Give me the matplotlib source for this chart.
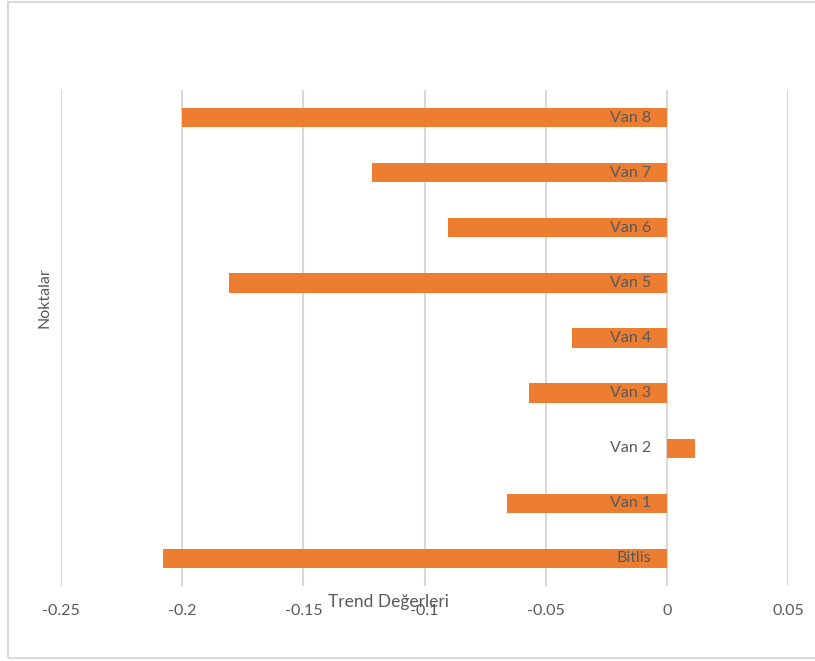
import matplotlib.pyplot as plt
from matplotlib.patches import Rectangle

# Veri
noktalar = ['Bitlis', 'Van 1', 'Van 2', 'Van 3', 'Van 4', 'Van 5', 'Van 6', 'Van 7', 'Van 8']
trend = [-0.208, -0.066, 0.0115, -0.057, -0.039, -0.1805, -0.0905, -0.1215, -0.2]
xticks = [-0.25, -0.2, -0.15, -0.1, -0.05, 0, 0.05]
xtick_labels = ['-0.25', '-0.2', '-0.15', '-0.1', '-0.05', '0', '0.05']

plt.rcParams['font.family'] = ['Lato', 'DejaVu Sans']
gray = '#595959'

fig = plt.figure(figsize=(8.15, 6.61), dpi=100)
ax = fig.add_axes([61 / 815, 1 - 586 / 661, 727 / 815, 496 / 661])

ypos = list(range(len(noktalar)))
ax.barh(ypos, trend, height=0.35, color='#ED7D31', zorder=3)

ax.set_xlim(-0.25, 0.05)
ax.set_ylim(-0.5, len(noktalar) - 0.5)
ax.set_xticks(xticks)
ax.set_xticklabels(xtick_labels, color=gray, fontsize=11.5)
ax.tick_params(axis='x', length=0, pad=13)
ax.set_yticks([])
ax.grid(axis='x', color='#D9D9D9', linewidth=1.5, zorder=0)
for s in ax.spines.values():
    s.set_visible(False)

# kategori etiketleri sifir ekseninin solunda
for y, name in zip(ypos, noktalar):
    ax.annotate(name, (0, y), xytext=(-11, 0), textcoords='offset points',
                ha='right', va='center', color=gray, fontsize=11.5, zorder=4)

fig.text(388 / 815, 1 - 602 / 661, 'Trend Değerleri', ha='center', va='center',
         color=gray, fontsize=12.5)
fig.text(45 / 815, 1 - 298 / 661, 'Noktalar', ha='center', va='center',
         rotation=90, color=gray, fontsize=11.5)

# cerceve
fig.patches.append(Rectangle((7.5 / 815, 1 - 658 / 661), 815 / 815, 656.5 / 661,
                             transform=fig.transFigure, fill=False,
                             edgecolor='#D9D9D9', linewidth=1.5))

fig.savefig('out.png', dpi=100)
